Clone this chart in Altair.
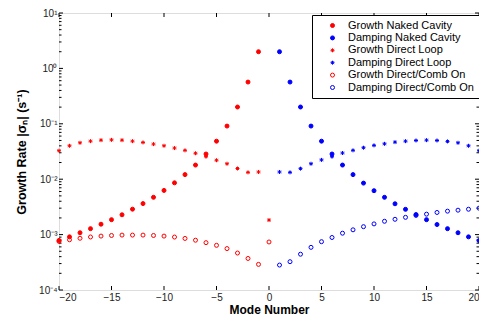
import altair as alt
import pandas as pd
import json

# ---------------- data ----------------
n_growth = list(range(-20, 0))          # -20 .. -1
n_growth0 = list(range(-20, 1))         # -20 .. 0
n_damp = list(range(1, 21))             # 1 .. 20

growth_naked = [7.85e-4, 9.1e-4, 1.08e-3, 1.28e-3, 1.54e-3, 1.86e-3, 2.28e-3, 2.88e-3,
                3.63e-3, 4.71e-3, 6.27e-3, 8.6e-3, 1.21e-2, 1.80e-2, 2.85e-2, 4.86e-2,
                9.1e-2, 0.201, 0.567, 2.0]
damping_naked = [2.0, 0.567, 0.201, 0.091, 0.0486, 0.0285, 0.0180, 0.0121, 8.5e-3, 6.2e-3,
                 4.71e-3, 3.6e-3, 2.86e-3, 2.3e-3, 1.86e-3, 1.52e-3, 1.28e-3, 1.08e-3,
                 9.1e-4, 7.8e-4]
growth_loop = [0.0327, 0.0401, 0.0454, 0.0486, 0.0507, 0.0513, 0.0507, 0.0486, 0.0461,
               0.0430, 0.0401, 0.0365, 0.0332, 0.0294, 0.0255, 0.0220, 0.0190, 0.0156,
               0.0133, 0.0135, 1.83e-3]
damping_loop = [0.0135, 0.0133, 0.0155, 0.0190, 0.0223, 0.0255, 0.0297, 0.0332, 0.0370,
                0.0408, 0.0435, 0.0467, 0.0486, 0.0500, 0.0507, 0.0500, 0.0481, 0.0454,
                0.0401, 0.0327]
growth_comb = [7.54e-4, 8.07e-4, 8.59e-4, 9.06e-4, 9.40e-4, 9.64e-4, 9.80e-4, 9.80e-4,
               9.80e-4, 9.64e-4, 9.40e-4, 9.03e-4, 8.53e-4, 7.92e-4, 7.15e-4, 6.40e-4,
               5.59e-4, 4.65e-4, 3.71e-4, 2.90e-4, 7.36e-4]
damping_comb = [2.82e-4, 3.24e-4, 4.43e-4, 5.89e-4, 7.45e-4, 8.87e-4, 1.06e-3, 1.22e-3,
                1.39e-3, 1.56e-3, 1.74e-3, 1.89e-3, 2.05e-3, 2.22e-3, 2.34e-3, 2.51e-3,
                2.65e-3, 2.76e-3, 2.87e-3, 3.00e-3]

series_names = ["Growth Naked Cavity", "Damping Naked Cavity", "Growth Direct Loop",
                "Damping Direct Loop", "Growth Direct/Comb On", "Damping Direct/Comb On"]

x_ticks = [-20, -15, -10, -5, 0, 5, 10, 15, 20]
x_tick_labels = ["\u221220", "\u221215", "\u221210", "\u22125", "0", "5", "10", "15", "20"]
y_ticks = [1e-4, 1e-3, 1e-2, 1e-1, 1e0, 1e1]
y_tick_labels = ["10\u207b\u2074", "10\u207b\u00b3", "10\u207b\u00b2", "10\u207b\u00b9",
                 "10\u2070", "10\u00b9"]
y_minor = [m * d for d in [1e-4, 1e-3, 1e-2, 1e-1, 1e0] for m in range(2, 10)]

# ---------------- table ----------------
rows = []
for name, xs, ys in [
    (series_names[0], n_growth, growth_naked),
    (series_names[1], n_damp, damping_naked),
    (series_names[2], n_growth0, growth_loop),
    (series_names[3], n_damp, damping_loop),
    (series_names[4], n_growth0, growth_comb),
    (series_names[5], n_damp, damping_comb),
]:
    for xv, yv in zip(xs, ys):
        rows.append({"n": xv, "rate": yv, "series": name})
df = pd.DataFrame(rows)

RED = "#ff0000"
BLUE = "#0000ff"
STAR = "M-1,0L1,0M0,-1L0,1M-0.7,-0.7L0.7,0.7M-0.7,0.7L0.7,-0.7"
FONT = "Liberation Sans"

W, H = 420, 277

x_scale = alt.Scale(domain=[-20, 20], nice=False, zero=False)
y_scale = alt.Scale(type="log", domain=[1e-4, 10], nice=False)

x_label_expr = "{" + ",".join(f"'{v}':'{l}'" for v, l in zip(x_ticks, x_tick_labels)) + "}[''+datum.value]"
y_label_expr = json.dumps(y_tick_labels, ensure_ascii=False) + "[round(log(datum.value)/LN10)+4]"

x_axis = alt.Axis(values=x_ticks, labelExpr=x_label_expr, ticks=False, domain=False,
                  grid=False, title="Mode Number", titleFont=FONT, titleFontSize=12,
                  titleFontWeight="bold", titleColor="black", labelFont=FONT,
                  labelFontSize=10, labelColor="#222222", labelPadding=2, titlePadding=2)
y_axis = alt.Axis(values=y_ticks, labelExpr=y_label_expr, ticks=False, domain=False,
                  grid=False, title="Growth Rate |\u03c3\u2099| (s\u207b\u00b9)", titleFont=FONT,
                  titleFontSize=12.5, titleFontWeight="bold", titleColor="black",
                  labelFont=FONT, labelFontSize=10, labelColor="#222222", labelPadding=2,
                  titlePadding=10)

legend = alt.Legend(title=None, orient="none", legendX=253, legendY=2, fillColor="white",
                    strokeColor="black", padding=5, labelFont=FONT,
                    labelFontSize=11, labelColor="black", symbolOffset=10, labelOffset=10,
                    rowPadding=0.4, labelLimit=300)

points = alt.Chart(df).mark_point(opacity=1).encode(
    x=alt.X("n:Q", scale=x_scale, axis=x_axis),
    y=alt.Y("rate:Q", scale=y_scale, axis=y_axis),
    stroke=alt.Stroke("series:N", scale=alt.Scale(domain=series_names,
                      range=[RED, BLUE, RED, BLUE, RED, BLUE]), legend=legend),
    fill=alt.Fill("series:N", scale=alt.Scale(domain=series_names,
                  range=[RED, BLUE, RED, BLUE, "transparent", "transparent"]), legend=legend),
    shape=alt.Shape("series:N", scale=alt.Scale(domain=series_names,
                    range=["circle", "circle", STAR, STAR, "circle", "circle"]), legend=legend),
    size=alt.Size("series:N", scale=alt.Scale(domain=series_names,
                  range=[16, 16, 50, 50, 40, 40]), legend=legend),
    strokeWidth=alt.StrokeWidth("series:N", scale=alt.Scale(domain=series_names,
                  range=[1, 1, 2, 2, 1, 1]), legend=legend),
)

# inward tick marks (MATLAB style box)
xt = pd.DataFrame({"v": x_ticks})
yt = pd.DataFrame({"v": y_ticks})
ym = pd.DataFrame({"v": y_minor})

def xrule(y1, y2):
    return alt.Chart(xt).mark_rule(color="black", strokeWidth=1).encode(
        x=alt.X("v:Q", scale=x_scale, axis=x_axis), y=alt.value(y1), y2=alt.value(y2))

def yrule(data, x1, x2):
    return alt.Chart(data).mark_rule(color="black", strokeWidth=1).encode(
        y=alt.Y("v:Q", scale=y_scale, axis=y_axis), x=alt.value(x1), x2=alt.value(x2))

ticks = [
    xrule(H, H - 4), xrule(0, 4),
    yrule(yt, 0, 4), yrule(yt, W, W - 4),
    yrule(ym, 0, 2.5), yrule(ym, W, W - 2.5),
]

chart = alt.layer(*ticks, points).properties(
    width=W, height=H,
    autosize=alt.AutoSizeParams(type="none"),
    padding={"left": 51, "top": 5, "right": 0, "bottom": 26},
).configure_view(stroke="black", strokeWidth=1.3).configure_legend(
    strokeWidth=1.2
).configure(background="white")

chart.save("out.html", embed_options={"renderer": "svg", "actions": False})
